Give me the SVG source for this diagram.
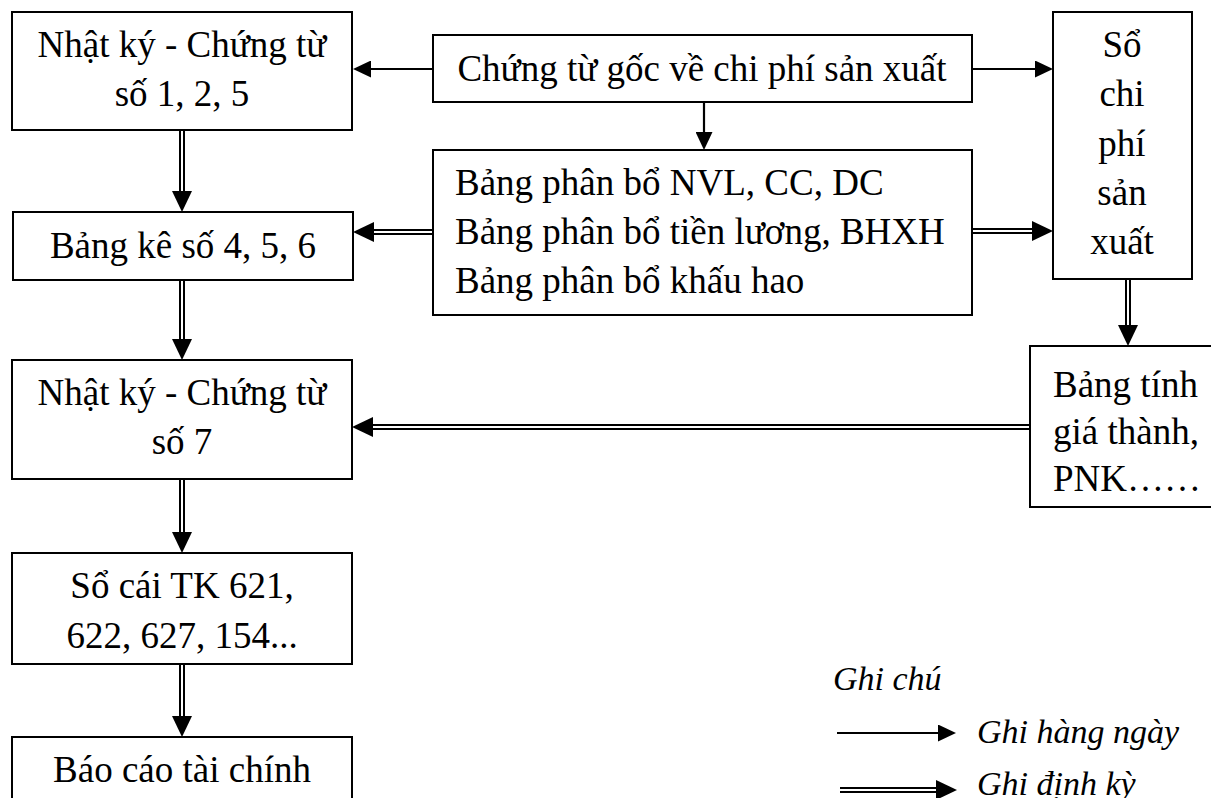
<svg xmlns="http://www.w3.org/2000/svg" width="1211" height="798" viewBox="0 0 1211 798">
<style>
.box{fill:#fff;stroke:#000;stroke-width:2}
.t{font-family:"Liberation Serif","Times New Roman",serif;font-size:37px;fill:#000}
.c{text-anchor:middle}
.lg{font-family:"Liberation Serif","Times New Roman",serif;font-size:34px;font-style:italic;fill:#000}
.s{stroke:#000;stroke-width:2.2;fill:none}
.dO{stroke:#000;stroke-width:6;fill:none}
.dI{stroke:#fff;stroke-width:2;fill:none}
</style>
<defs>
<marker id="ah" markerUnits="userSpaceOnUse" markerWidth="18" markerHeight="17" refX="0" refY="8.5" orient="auto">
<path d="M0,0 L18,8.5 L0,17 z" fill="#000"/>
</marker>
<marker id="ahd" markerUnits="userSpaceOnUse" markerWidth="21" markerHeight="20" refX="0" refY="10" orient="auto">
<path d="M0,0 L21,10 L0,20 z" fill="#000"/>
</marker>
</defs>
<rect width="1211" height="798" fill="#fff"/>
<g id="connectors">
<line class="s" x1="433" y1="69" x2="371" y2="69" marker-end="url(#ah)"/>
<line class="s" x1="972" y1="69" x2="1035" y2="69" marker-end="url(#ah)"/>
<line class="s" x1="704" y1="102" x2="704" y2="132" marker-end="url(#ah)"/>
<line class="dO" x1="433" y1="232" x2="374" y2="232" marker-end="url(#ahd)"/>
<line class="dI" x1="434" y1="232" x2="374" y2="232"/>
<line class="dO" x1="972" y1="231" x2="1032" y2="231" marker-end="url(#ahd)"/>
<line class="dI" x1="971" y1="231" x2="1032" y2="231"/>
<line class="dO" x1="182" y1="130" x2="182" y2="191" marker-end="url(#ahd)"/>
<line class="dI" x1="182" y1="129" x2="182" y2="191"/>
<line class="dO" x1="182" y1="280" x2="182" y2="339" marker-end="url(#ahd)"/>
<line class="dI" x1="182" y1="279" x2="182" y2="339"/>
<line class="dO" x1="1128" y1="279" x2="1128" y2="325" marker-end="url(#ahd)"/>
<line class="dI" x1="1128" y1="278" x2="1128" y2="325"/>
<line class="dO" x1="1030" y1="427" x2="373" y2="427" marker-end="url(#ahd)"/>
<line class="dI" x1="1031" y1="427" x2="373" y2="427"/>
<line class="dO" x1="182" y1="479" x2="182" y2="532" marker-end="url(#ahd)"/>
<line class="dI" x1="182" y1="478" x2="182" y2="532"/>
<line class="dO" x1="182" y1="664" x2="182" y2="716" marker-end="url(#ahd)"/>
<line class="dI" x1="182" y1="663" x2="182" y2="716"/>
</g>
<g id="n1"><rect class="box" x="12" y="12" width="340" height="118"/>
<text class="t c" x="182" y="57">Nhật ký - Chứng từ</text><text class="t c" x="182" y="106">số 1, 2, 5</text></g>
<g id="n2"><rect class="box" x="13" y="212" width="340" height="68"/>
<text class="t c" x="183" y="258">Bảng kê số 4, 5, 6</text></g>
<g id="n3"><rect class="box" x="12" y="360" width="340" height="119"/>
<text class="t c" x="182" y="405">Nhật ký - Chứng từ</text><text class="t c" x="182" y="454">số 7</text></g>
<g id="n4"><rect class="box" x="12" y="553" width="340" height="111"/>
<text class="t c" x="182" y="598">Sổ cái TK 621,</text><text class="t c" x="182" y="648">622, 627, 154...</text></g>
<g id="n5"><rect class="box" x="12" y="737" width="340" height="90"/>
<text class="t c" x="182" y="782">Báo cáo tài chính</text></g>
<g id="n6"><rect class="box" x="433" y="35" width="539" height="67"/>
<text class="t c" x="702" y="81">Chứng từ gốc về chi phí sản xuất</text></g>
<g id="n7"><rect class="box" x="433" y="150" width="539" height="165"/>
<text class="t" x="455" y="195">Bảng phân bổ NVL, CC, DC</text>
<text class="t" x="455" y="244">Bảng phân bổ tiền lương, BHXH</text>
<text class="t" x="455" y="293">Bảng phân bổ khấu hao</text></g>
<g id="n8"><rect class="box" x="1053" y="12" width="139" height="267"/>
<text class="t c" x="1122" y="57">Sổ</text><text class="t c" x="1122" y="106">chi</text><text class="t c" x="1122" y="156">phí</text><text class="t c" x="1122" y="205">sản</text><text class="t c" x="1122" y="254">xuất</text></g>
<g id="n9"><rect class="box" x="1030" y="346" width="200" height="161"/>
<text class="t" x="1053" y="397">Bảng tính</text><text class="t" x="1053" y="444">giá thành,</text><text class="t" x="1053" y="491">PNK……</text></g>
<g id="legend">
<text class="lg" x="833" y="690">Ghi chú</text>
<line class="s" x1="837" y1="733" x2="938" y2="733" marker-end="url(#ah)"/>
<text class="lg" x="977" y="743">Ghi hàng ngày</text>
<line class="dO" x1="840" y1="790" x2="936" y2="790" marker-end="url(#ahd)"/>
<line class="dI" x1="840" y1="790" x2="936" y2="790"/>
<text class="lg" x="977" y="795">Ghi định kỳ</text>
</g>
</svg>
